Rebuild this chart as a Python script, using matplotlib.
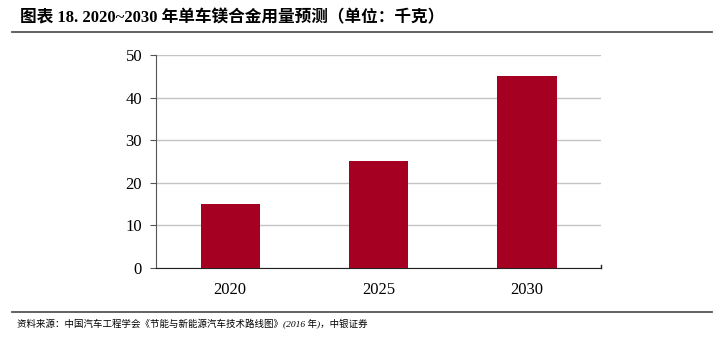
import matplotlib.pyplot as plt
from matplotlib.lines import Line2D

years = ["2020", "2025", "2030"]
mg_kg = [15, 25, 45]
y_ticks = [0, 10, 20, 30, 40, 50]

title = "图表 18. 2020~2030 年单车镁合金用量预测（单位：千克）"
source = "资料来源：中国汽车工程学会《节能与新能源汽车技术路线图》(2016 年)，中银证券"

serif_cjk = ["Liberation Serif", "Noto Sans CJK SC"]
plt.rcParams["font.family"] = serif_cjk

fig = plt.figure(figsize=(7.26, 3.46), dpi=100)
ax = fig.add_axes([156 / 726, 1 - 268 / 346, 445 / 726, 213 / 346])

x = range(len(years))
ax.bar(x, mg_kg, width=0.4, color="#A50021", zorder=3)
ax.set_xlim(-0.5, len(years) - 0.5)
ax.set_ylim(0, 50)
ax.set_yticks(y_ticks)
ax.set_xticks(list(x))
ax.set_xticklabels(years)

ax.grid(axis="y", color="#c4c4c4", linewidth=1, zorder=0)
for side in ("top", "right"):
    ax.spines[side].set_visible(False)
ax.spines["left"].set_color("#555555")
ax.spines["bottom"].set_color("#222222")
ax.tick_params(axis="y", length=4, direction="out", color="#555555",
               labelsize=12, pad=6)
ax.tick_params(axis="x", length=0, labelsize=12, pad=10)
# small end tick at the right of the category axis
ax.plot([len(years) - 0.5] * 2, [0, 0.8], color="#222222", lw=1,
        clip_on=False, zorder=4)

fig.text(20 / 726, 1 - 18 / 346, title, fontsize=12, fontweight="bold",
         va="center", ha="left")
fig.add_artist(Line2D([12 / 726, 712 / 726], [1 - 32 / 346] * 2,
                      color="#555555", lw=1.3))
fig.add_artist(Line2D([12 / 726, 712 / 726], [1 - 312 / 346] * 2,
                      color="#555555", lw=1.3))
fig.text(17 / 726, 1 - 324 / 346, source, fontsize=6.8, style="italic",
         va="center", ha="left")

fig.savefig("out.png", dpi=100)
